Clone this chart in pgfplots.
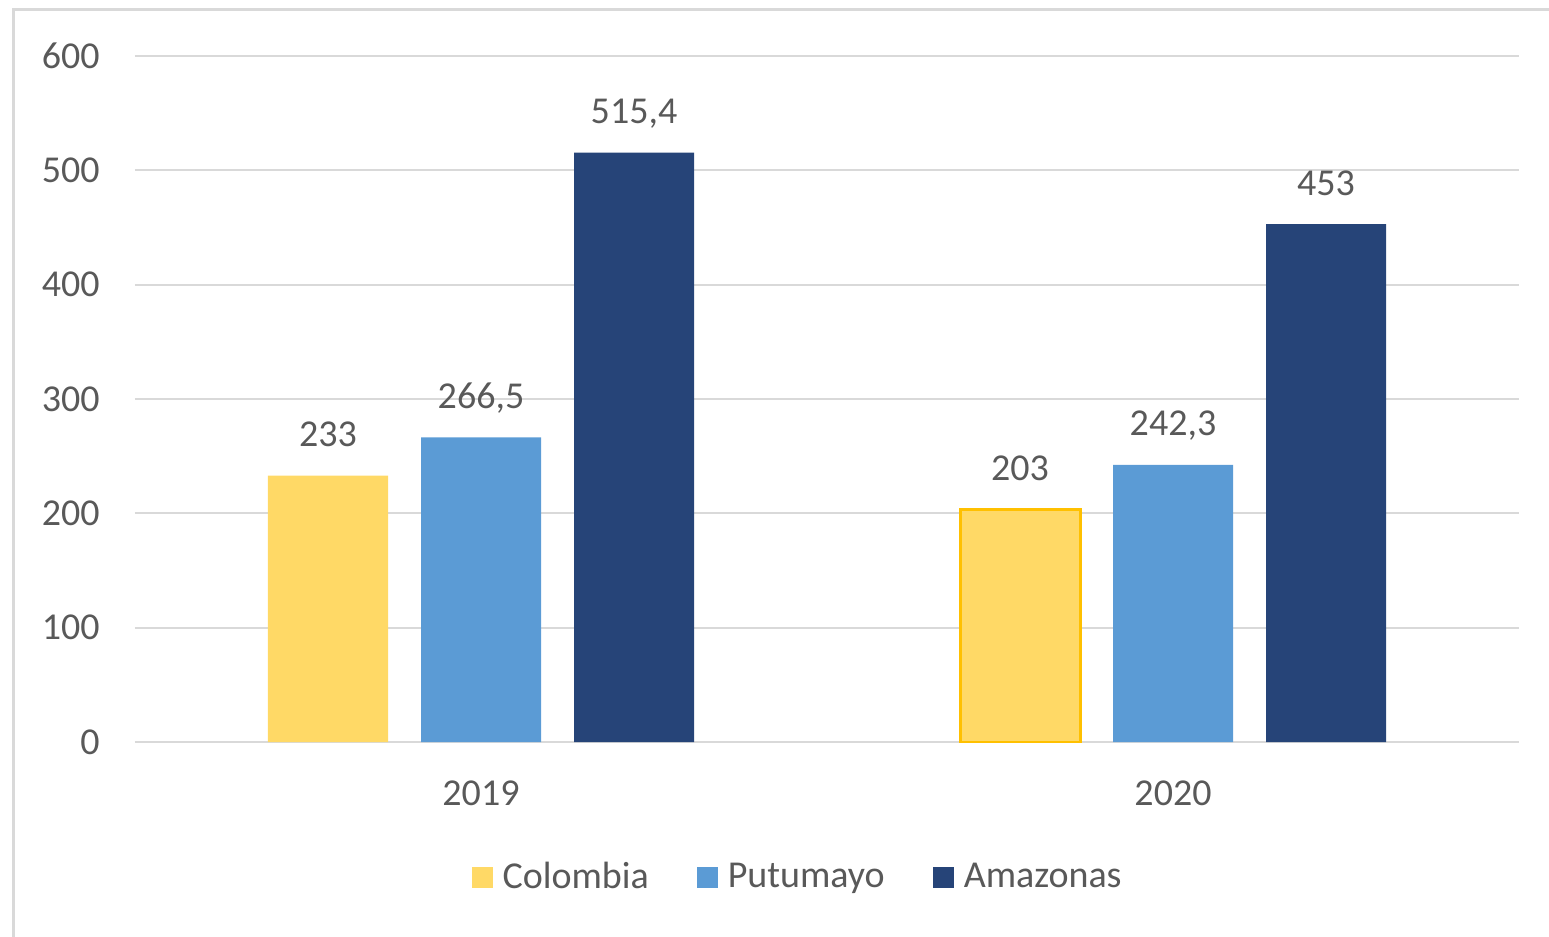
\documentclass[border=0pt]{standalone}
\usepackage{pgfplots}
\pgfplotsset{compat=1.18}
\usepackage{fontspec}
\setmainfont{Carlito}

\definecolor{colyel}{HTML}{FFD966}
\definecolor{colyelline}{HTML}{FFC000}
\definecolor{colblue}{HTML}{5B9BD5}
\definecolor{colnavy}{HTML}{264478}
\definecolor{txtgray}{HTML}{595959}
\definecolor{gridgray}{HTML}{D9D9D9}

\begin{document}
\begin{tikzpicture}
% 1 px of the reference = 0.5pt
\useasboundingbox (0,0) rectangle (774.5pt,-468.5pt);
\draw[gridgray, line width=1.5pt] (6.75pt,-468.5pt) -- (6.75pt,-4.5pt) -- (774.5pt,-4.5pt);
\begin{axis}[
    at={(67.5pt,-371pt)}, anchor=south west,
    scale only axis,
    width=692pt, height=343pt,
    font=\fontsize{19}{22}\selectfont,
    ybar=16.5pt,
    bar width=60pt,
    xmin=-0.5, xmax=1.5,
    ymin=0, ymax=600,
    xtick={0,1},
    xticklabels={2019,2020},
    ytick={0,100,...,600},
    major tick length=0pt,
    axis line style={draw=none},
    ymajorgrids=true,
    grid style={gridgray, line width=1pt},
    tick label style={txtgray},
    yticklabel style={inner sep=0pt, xshift=-17.5pt},
    xticklabel style={inner sep=0pt, yshift=-19pt},
    /pgf/number format/assume math mode=true,
    /pgf/number format/use comma,
    nodes near coords,
    every node near coord/.append style={txtgray, anchor=base, inner sep=0pt, yshift=14.5pt},
    legend style={draw=none, at={(0.478,-0.197)}, anchor=center,
        legend columns=-1, inner sep=0pt,
        nodes={inner sep=0pt, text=txtgray},
        /tikz/every odd column/.append style={column sep=5pt},
        /tikz/every even column/.append style={column sep=24pt}},
    legend image code/.code={\fill[#1] (0pt,-5.25pt) rectangle (10.5pt,5.25pt);},
]
\addplot[fill=colyel, draw=none, bar shift=-76.5pt] coordinates {(0,233) (1,203)};
\addlegendentry{Colombia}
\addplot[fill=colblue, draw=none, bar shift=0pt] coordinates {(0,266.5) (1,242.3)};
\addlegendentry{Putumayo}
\addplot[fill=colnavy, draw=none, bar shift=76.5pt] coordinates {(0,515.4) (1,453)};
\addlegendentry{Amazonas}
% outlined 2020 Colombia bar
\addplot[fill=colyel, draw=colyelline, line width=1.5pt, bar shift=-76.5pt,
    nodes near coords={}, forget plot] coordinates {(1,203)};
\end{axis}
\end{tikzpicture}
\end{document}
